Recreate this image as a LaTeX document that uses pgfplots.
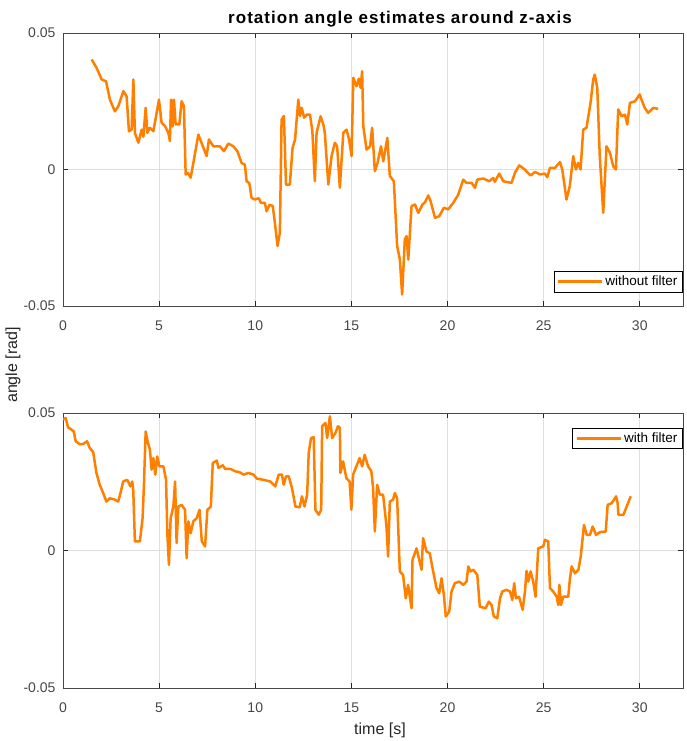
\documentclass[border=0pt]{standalone}
\usepackage{pgfplots}
\pgfplotsset{compat=1.18}
\usepackage{fontspec}
\setmainfont{Liberation Sans}
\newfontfamily\titlefont[LetterSpace=6]{Liberation Sans}
\definecolor{mlorange}{RGB}{255,128,0}
\definecolor{axgray}{RGB}{38,38,38}
\definecolor{gridgray}{RGB}{223,223,223}
\pgfplotstableread{
x y
1.49 0.0403
1.75 0.0372
2.01 0.0330
2.24 0.0323
2.44 0.0256
2.70 0.0213
2.88 0.0232
3.14 0.0287
3.31 0.0268
3.43 0.0140
3.57 0.0146
3.66 0.0330
3.74 0.0134
3.92 0.0098
4.09 0.0146
4.18 0.0120
4.30 0.0226
4.39 0.0134
4.52 0.0153
4.70 0.0140
4.87 0.0207
4.99 0.0256
5.13 0.0171
5.30 0.0160
5.48 0.0134
5.56 0.0104
5.62 0.0256
5.70 0.0158
5.77 0.0256
5.86 0.0165
6.05 0.0165
6.17 0.0250
6.29 0.0232
6.38 -0.0018
6.51 -0.0013
6.64 -0.0030
6.78 0.0024
7.04 0.0128
7.22 0.0095
7.47 0.0049
7.59 0.0110
7.82 0.0085
8.16 0.0085
8.37 0.0067
8.60 0.0095
8.86 0.0085
9.07 0.0067
9.29 0.0024
9.46 0.0018
9.55 -0.0043
9.69 -0.0050
9.81 -0.0104
9.98 -0.0110
10.19 -0.0105
10.29 -0.0122
10.50 -0.0122
10.59 -0.0153
10.73 -0.0130
10.91 -0.0133
11.02 -0.0195
11.16 -0.0280
11.28 -0.0232
11.37 0.0183
11.49 0.0196
11.60 -0.0055
11.80 -0.0055
11.94 0.0079
12.07 0.0110
12.24 0.0256
12.33 0.0196
12.42 0.0226
12.54 0.0190
12.68 0.0201
12.85 0.0201
12.97 0.0140
13.10 -0.0043
13.19 0.0134
13.40 0.0195
13.54 0.0165
13.62 0.0134
13.80 -0.0055
13.97 0.0049
14.14 0.0098
14.26 0.0085
14.40 -0.0067
14.58 0.0134
14.75 0.0146
14.88 0.0110
15.01 0.0049
15.10 0.0336
15.27 0.0305
15.39 0.0333
15.48 0.0299
15.56 0.0360
15.62 0.0158
15.79 0.0073
15.97 0.0085
16.08 0.0153
16.22 -0.0006
16.36 0.0024
16.54 0.0085
16.66 0.0030
16.87 0.0116
17.00 -0.0024
17.21 -0.0043
17.38 -0.0280
17.52 -0.0329
17.64 -0.0458
17.78 -0.0256
17.87 -0.0244
17.96 -0.0330
18.13 -0.0134
18.31 -0.0128
18.48 -0.0159
18.70 -0.0128
18.83 -0.0120
19.00 -0.0095
19.12 -0.0116
19.35 -0.0177
19.57 -0.0171
19.81 -0.0140
20.04 -0.0146
20.30 -0.0122
20.56 -0.0092
20.82 -0.0037
20.99 -0.0049
21.25 -0.0049
21.43 -0.0067
21.55 -0.0037
21.86 -0.0033
22.17 -0.0043
22.38 -0.0031
22.46 -0.0045
22.69 -0.0015
22.90 -0.0043
23.33 -0.0049
23.51 -0.0012
23.73 0.0015
24.02 0.0000
24.32 -0.0022
24.55 -0.0009
24.81 -0.0018
25.07 -0.0015
25.19 -0.0028
25.33 0.0006
25.59 0.0006
25.85 0.0027
25.97 0.0000
26.19 -0.0110
26.36 -0.0061
26.54 0.0049
26.68 0.0000
26.80 0.0024
26.92 0.0000
27.06 0.0146
27.23 0.0153
27.44 0.0244
27.58 0.0330
27.66 0.0348
27.79 0.0299
27.92 0.0049
28.10 -0.0159
28.27 0.0085
28.45 0.0061
28.62 0.0012
28.76 0.0000
28.88 0.0220
29.06 0.0195
29.23 0.0201
29.35 0.0165
29.49 0.0244
29.75 0.0250
30.00 0.0275
30.09 0.0256
30.26 0.0226
30.44 0.0207
30.70 0.0226
30.96 0.0222
}\nofilter
\pgfplotstableread{
x y
0.00 0.0476
0.14 0.0482
0.26 0.0448
0.43 0.0440
0.56 0.0433
0.66 0.0397
0.87 0.0387
1.04 0.0387
1.25 0.0397
1.39 0.0373
1.57 0.0358
1.74 0.0282
1.91 0.0239
2.09 0.0209
2.26 0.0178
2.43 0.0190
2.70 0.0185
2.87 0.0178
2.99 0.0209
3.13 0.0251
3.34 0.0257
3.51 0.0233
3.60 0.0251
3.65 0.0227
3.74 0.0033
4.00 0.0033
4.14 0.0118
4.21 0.0239
4.30 0.0433
4.40 0.0397
4.52 0.0367
4.61 0.0294
4.70 0.0336
4.80 0.0276
4.90 0.0342
5.01 0.0306
5.22 0.0306
5.36 0.0257
5.43 0.0057
5.51 -0.0052
5.60 0.0118
5.74 0.0160
5.83 0.0251
5.91 0.0027
6.00 0.0160
6.17 0.0166
6.35 0.0148
6.43 -0.0028
6.52 0.0106
6.64 0.0063
6.78 0.0106
6.96 0.0118
7.10 0.0148
7.22 0.0033
7.39 0.0015
7.51 0.0148
7.69 0.0160
7.79 0.0318
8.00 0.0327
8.09 0.0300
8.31 0.0310
8.43 0.0297
8.70 0.0297
8.96 0.0288
9.18 0.0285
9.39 0.0276
9.65 0.0282
9.91 0.0276
10.09 0.0261
10.43 0.0257
10.78 0.0251
11.04 0.0233
11.22 0.0276
11.39 0.0276
11.48 0.0239
11.60 0.0270
11.74 0.0270
11.91 0.0227
12.09 0.0160
12.31 0.0157
12.43 0.0197
12.56 0.0160
12.70 0.0203
12.78 0.0354
12.90 0.0409
13.04 0.0412
13.13 0.0148
13.30 0.0130
13.43 0.0148
13.48 0.0452
13.65 0.0464
13.74 0.0409
13.88 0.0488
14.00 0.0409
14.17 0.0427
14.30 0.0452
14.40 0.0446
14.43 0.0282
14.57 0.0324
14.74 0.0263
14.91 0.0251
15.00 0.0148
15.09 0.0276
15.26 0.0306
15.43 0.0336
15.56 0.0306
15.69 0.0348
15.87 0.0306
16.04 0.0288
16.13 0.0227
16.22 0.0069
16.34 0.0239
16.48 0.0203
16.65 0.0203
16.82 0.0093
16.91 -0.0022
17.00 0.0178
17.17 0.0185
17.26 0.0209
17.38 0.0190
17.52 -0.0076
17.69 -0.0089
17.83 -0.0174
17.95 -0.0125
18.13 -0.0210
18.18 -0.0034
18.39 0.0008
18.51 -0.0028
18.65 -0.0070
18.73 0.0045
18.91 -0.0004
19.08 -0.0010
19.22 -0.0064
19.43 -0.0137
19.57 -0.0155
19.69 -0.0101
19.81 -0.0161
19.91 -0.0240
20.09 -0.0222
20.21 -0.0149
20.38 -0.0119
20.61 -0.0113
20.82 -0.0125
20.99 -0.0113
21.08 -0.0058
21.20 -0.0076
21.34 -0.0070
21.55 -0.0089
21.68 -0.0204
21.98 -0.0210
22.15 -0.0186
22.29 -0.0198
22.41 -0.0240
22.59 -0.0246
22.73 -0.0174
22.85 -0.0149
23.07 -0.0143
23.25 -0.0149
23.37 -0.0180
23.47 -0.0119
23.56 -0.0174
23.72 -0.0168
23.91 -0.0216
24.03 -0.0149
24.11 -0.0074
24.20 -0.0113
24.32 -0.0076
24.46 -0.0113
24.58 -0.0168
24.72 0.0008
24.98 0.0015
25.07 0.0039
25.24 0.0033
25.33 -0.0137
25.50 -0.0149
25.68 -0.0168
25.76 -0.0198
25.82 -0.0125
25.90 -0.0198
26.02 -0.0168
26.28 -0.0168
26.37 -0.0101
26.46 -0.0058
26.63 -0.0083
26.81 -0.0070
26.93 -0.0022
27.10 0.0093
27.24 0.0057
27.41 0.0057
27.55 0.0087
27.73 0.0057
27.93 0.0067
28.23 0.0069
28.33 0.0166
28.54 0.0172
28.77 0.0197
28.85 0.0172
28.89 0.0130
29.15 0.0130
29.32 0.0160
29.53 0.0197
}\withfilter
\begin{document}
\begin{tikzpicture}
\useasboundingbox (0pt,0pt) rectangle (687pt,-741pt);
\pgfplotsset{
 myax/.style={
  scale only axis, width=620pt,
  xmin=0, xmax=32.25, ymin=-0.05, ymax=0.05,
  scaled y ticks=false, scaled x ticks=false,
  xtick={0,5,...,30}, xticklabels={0,5,10,15,20,25,30},
  ytick={-0.05,0,0.05}, yticklabels={-0.05,0,0.05},
  grid=major, major grid style={gridgray, line width=0.6pt},
  tick align=inside, major tick length=5pt,
  axis line style={axgray!85, line width=0.8pt},
  tick style={axgray, line width=0.8pt},
  ticklabel style={font=\fontsize{14}{16}\selectfont, text=axgray!85},
  xticklabel style={yshift=-11pt},
  yticklabel style={xshift=-4pt},
  legend style={draw=black, fill=white, font=\fontsize{13.5}{15}\selectfont, inner xsep=3pt, inner ysep=2.5pt},
  legend image code/.code={\draw[#1, line width=2.5pt] (0pt,0pt) -- (44pt,0pt);},
  legend cell align=left,
 }
}
\begin{axis}[myax, at={(63pt,-306pt)}, anchor=south west, height=273pt,
  legend style={at={(1,0)}, anchor=south east, xshift=-0.5pt, yshift=14pt}]
\addplot[mlorange, line width=2.5pt, line join=round] table[x=x,y=y] {\nofilter};
\addlegendentry{without filter}
\end{axis}
\begin{axis}[myax, at={(63pt,-688pt)}, anchor=south west, height=275pt,
  legend style={at={(1,1)}, anchor=north east, xshift=-0.5pt, yshift=-15pt}]
\addplot[mlorange, line width=2.5pt, line join=round] table[x=x,y=y] {\withfilter};
\addlegendentry{with filter}
\end{axis}
\node[font=\titlefont\bfseries\fontsize{17}{19}\selectfont, anchor=base, text=black] at (400pt,-23.5pt) {rotation angle estimates around z-axis};
\node[rotate=90, font=\fontsize{16}{18}\selectfont, text=axgray] at (13pt,-365pt) {angle [rad]};
\node[anchor=base, font=\fontsize{16}{18}\selectfont, text=axgray] at (380pt,-734pt) {time [s]};
\end{tikzpicture}
\end{document}
